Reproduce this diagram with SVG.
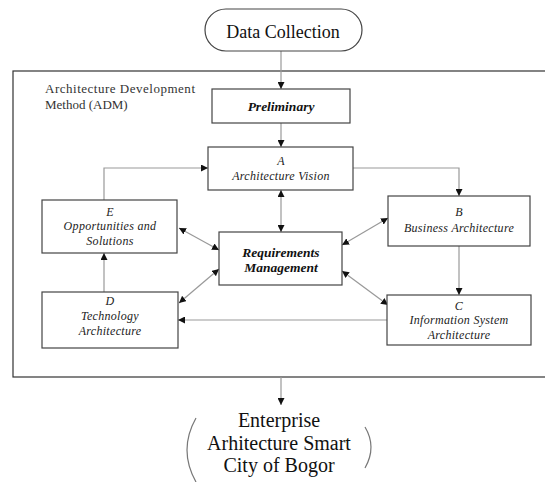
<svg xmlns="http://www.w3.org/2000/svg" width="545" height="482" viewBox="0 0 545 482">
<style>
.box{fill:#fff;stroke:#444;stroke-width:1.2}
.frame{fill:none;stroke:#333;stroke-width:1.2}
.con{fill:none;stroke:#999;stroke-width:1.2}
.lbl{font-family:"Liberation Serif","Times New Roman",serif;font-style:italic;font-size:12px;letter-spacing:0.3px;fill:#222;text-anchor:middle}
.bold{font-family:"Liberation Serif","Times New Roman",serif;font-style:italic;font-weight:bold;font-size:13.5px;fill:#111;text-anchor:middle}
.big{font-family:"Liberation Serif","Times New Roman",serif;font-size:20px;fill:#111;text-anchor:middle}
.note{font-family:"Liberation Serif","Times New Roman",serif;font-size:13px;fill:#333}
</style>
<defs>
<marker id="ah" viewBox="0 0 10 10" refX="10" refY="5" markerWidth="7" markerHeight="7" markerUnits="userSpaceOnUse" orient="auto-start-reverse">
<path d="M0,0 L10,5 L0,10 z" fill="#111"/>
</marker>
</defs>
<rect class="frame" x="13" y="71" width="540" height="306"/>
<text class="note" x="45" y="93" textLength="150">Architecture Development</text>
<text class="note" x="45" y="109">Method (ADM)</text>
<g id="connectors">
<line class="con" x1="281" y1="51" x2="281" y2="89" marker-end="url(#ah)"/>
<line class="con" x1="281" y1="123" x2="281" y2="147" marker-end="url(#ah)"/>
<polyline class="con" points="104,200 104,168 208,168" marker-end="url(#ah)"/>
<polyline class="con" points="353,168 459,168 459,196" marker-end="url(#ah)"/>
<line class="con" x1="281" y1="190" x2="281" y2="232" marker-start="url(#ah)" marker-end="url(#ah)"/>
<line class="con" x1="179" y1="228" x2="219" y2="250" marker-start="url(#ah)" marker-end="url(#ah)"/>
<line class="con" x1="179" y1="303" x2="219" y2="269" marker-start="url(#ah)" marker-end="url(#ah)"/>
<line class="con" x1="388" y1="218" x2="342" y2="245" marker-start="url(#ah)" marker-end="url(#ah)"/>
<line class="con" x1="342" y1="271" x2="388" y2="305" marker-start="url(#ah)" marker-end="url(#ah)"/>
<line class="con" x1="459" y1="246" x2="459" y2="295" marker-end="url(#ah)"/>
<line class="con" x1="104" y1="292" x2="104" y2="253" marker-end="url(#ah)"/>
<line class="con" x1="387" y1="320" x2="178" y2="320" marker-end="url(#ah)"/>
<line class="con" x1="281" y1="377" x2="281" y2="405" marker-end="url(#ah)"/>
</g>
<g id="data-collection">
<rect class="box" x="205" y="9" width="157" height="42" rx="21" ry="21"/>
<text class="big" style="font-size:18px" x="283" y="38">Data Collection</text>
</g>
<g id="preliminary">
<rect class="box" x="212" y="89" width="138" height="34"/>
<text class="bold" x="281" y="111">Preliminary</text>
</g>
<g id="node-a">
<rect class="box" x="208" y="147" width="145" height="43"/>
<text class="lbl" x="281" y="165">A</text>
<text class="lbl" x="281" y="180">Architecture Vision</text>
</g>
<g id="requirements">
<rect class="box" x="219" y="232" width="123" height="53"/>
<text class="bold" x="281" y="257">Requirements</text>
<text class="bold" x="281" y="272">Management</text>
</g>
<g id="node-e">
<rect class="box" x="42" y="200" width="135" height="53"/>
<text class="lbl" x="110" y="216">E</text>
<text class="lbl" x="110" y="230">Opportunities and</text>
<text class="lbl" x="110" y="245">Solutions</text>
</g>
<g id="node-b">
<rect class="box" x="388" y="196" width="142" height="50"/>
<text class="lbl" x="459" y="216">B</text>
<text class="lbl" x="459" y="232">Business Architecture</text>
</g>
<g id="node-d">
<rect class="box" x="42" y="292" width="136" height="56"/>
<text class="lbl" x="110" y="305">D</text>
<text class="lbl" x="110" y="320">Technology</text>
<text class="lbl" x="110" y="335">Architecture</text>
</g>
<g id="node-c">
<rect class="box" x="387" y="295" width="144" height="50"/>
<text class="lbl" x="459" y="310">C</text>
<text class="lbl" x="459" y="324">Information System</text>
<text class="lbl" x="459" y="339">Architecture</text>
</g>
<g id="enterprise">
<path d="M196,418 Q178,450 196,482" fill="none" stroke="#777" stroke-width="1.2"/>
<path d="M365,427 Q377,447 365,468" fill="none" stroke="#777" stroke-width="1.2"/>
<text class="big" x="279" y="427">Enterprise</text>
<text class="big" x="279" y="450">Arhitecture Smart</text>
<text class="big" x="279" y="472">City of Bogor</text>
</g>
</svg>
